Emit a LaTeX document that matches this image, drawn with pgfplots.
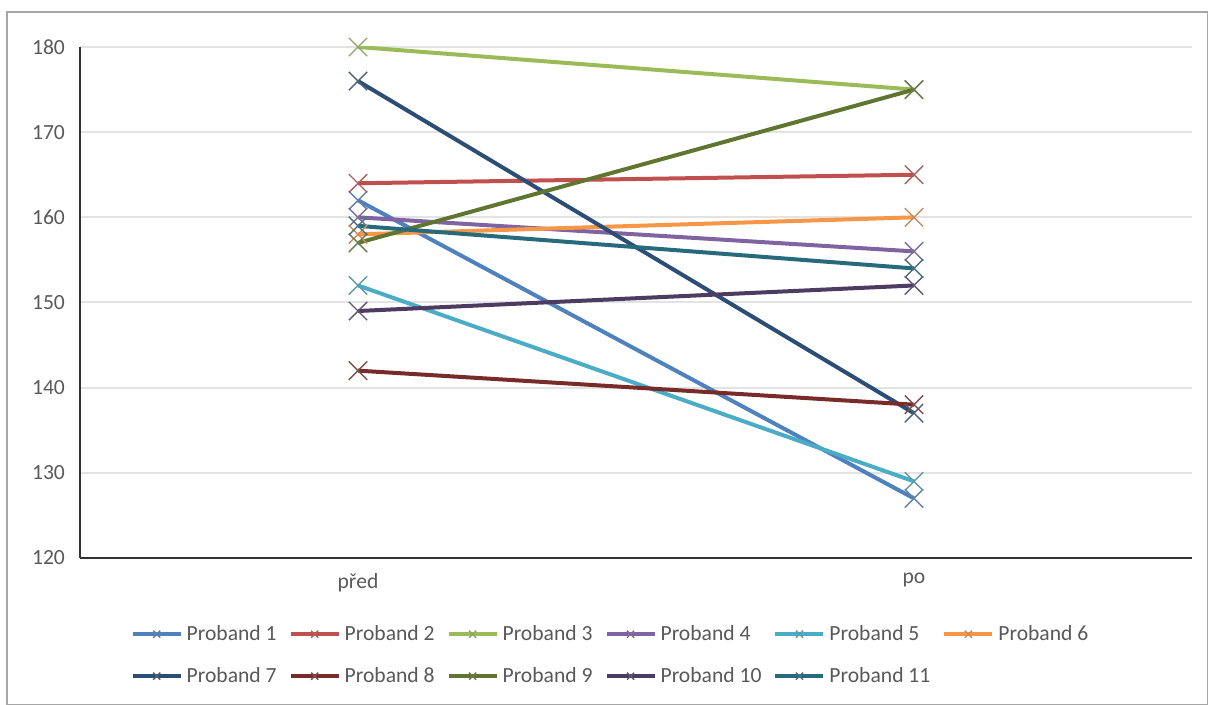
\documentclass[border=0pt]{standalone}
\usepackage{fontspec}
\setmainfont{Carlito}
\usepackage{pgfplots}
\pgfplotsset{compat=1.18}
\definecolor{c1}{HTML}{4F81BD}
\definecolor{c2}{HTML}{C0504D}
\definecolor{c3}{HTML}{9BBB59}
\definecolor{c4}{HTML}{8064A2}
\definecolor{c5}{HTML}{4BACC6}
\definecolor{c6}{HTML}{F79646}
\definecolor{c7}{HTML}{2C4D75}
\definecolor{c8}{HTML}{772C2A}
\definecolor{c9}{HTML}{5F7530}
\definecolor{c10}{HTML}{4D3B62}
\definecolor{c11}{HTML}{276A7C}
\definecolor{txt}{HTML}{595959}
\begin{document}
\begin{tikzpicture}
\path[use as bounding box] (-40pt,-73.5pt) rectangle (564pt,279pt);
\draw[gray!70, line width=0.6pt] (-36.5pt,-73.5pt) rectangle (564pt,273pt);
\begin{axis}[
  at={(0,0)}, anchor=south west,
  scale only axis, width=556pt, height=255.5pt,
  xmin=-0.5, xmax=1.5, ymin=120, ymax=180,
  xtick={0,1}, xticklabels={před,po},
  ytick={120,130,...,180},
  /pgf/number format/assume math mode=true,
  axis x line*=bottom, axis y line*=left,
  axis line style={-, line width=1pt, black!80},
  major tick length=0pt,
  ymajorgrids, grid style={gray!22, line width=1pt},
  tick label style={font=\fontsize{10.8}{12}\selectfont, text=txt},
  yticklabel style={xshift=-4pt},
  xticklabel style={yshift=-4pt},
  every axis plot/.append style={line width=2pt, mark=x, mark size=6.5pt},
  legend cell align=left,
  legend style={at={(axis description cs:0.478,-0.115)}, anchor=north, draw=none,
    font=\fontsize{10.8}{12}\selectfont, text=txt, legend columns=6,
    /tikz/every even column/.append style={column sep=4pt},
    row sep=8pt},
  legend image code/.code={\draw[#1, mark size=2.5pt, mark repeat=2, mark phase=2] plot coordinates {(0pt,0pt)(12pt,0pt)(24pt,0pt)};},
]
\addplot[c1, mark options={c1!60!gray, line width=0.7pt}] coordinates {(0,162) (1,127)};
\addlegendentry{Proband 1}
\addplot[c2, mark options={c2!60!gray, line width=0.7pt}] coordinates {(0,164) (1,165)};
\addlegendentry{Proband 2}
\addplot[c3, mark options={c3!60!gray, line width=0.7pt}] coordinates {(0,180) (1,175)};
\addlegendentry{Proband 3}
\addplot[c4, mark options={c4!60!gray, line width=0.7pt}] coordinates {(0,160) (1,156)};
\addlegendentry{Proband 4}
\addplot[c5, mark options={c5!60!gray, line width=0.7pt}] coordinates {(0,152) (1,129)};
\addlegendentry{Proband 5}
\addplot[c6, mark options={c6!60!gray, line width=0.7pt}] coordinates {(0,158) (1,160)};
\addlegendentry{Proband 6}
\addplot[c7, mark options={c7!60!gray, line width=0.7pt}] coordinates {(0,176) (1,137)};
\addlegendentry{Proband 7}
\addplot[c8, mark options={c8!60!gray, line width=0.7pt}] coordinates {(0,142) (1,138)};
\addlegendentry{Proband 8}
\addplot[c9, mark options={c9!60!gray, line width=0.7pt}] coordinates {(0,157) (1,175)};
\addlegendentry{Proband 9}
\addplot[c10, mark options={c10!60!gray, line width=0.7pt}] coordinates {(0,149) (1,152)};
\addlegendentry{Proband 10}
\addplot[c11, mark options={c11!60!gray, line width=0.7pt}] coordinates {(0,159) (1,154)};
\addlegendentry{Proband 11}
\end{axis}
\end{tikzpicture}
\end{document}
